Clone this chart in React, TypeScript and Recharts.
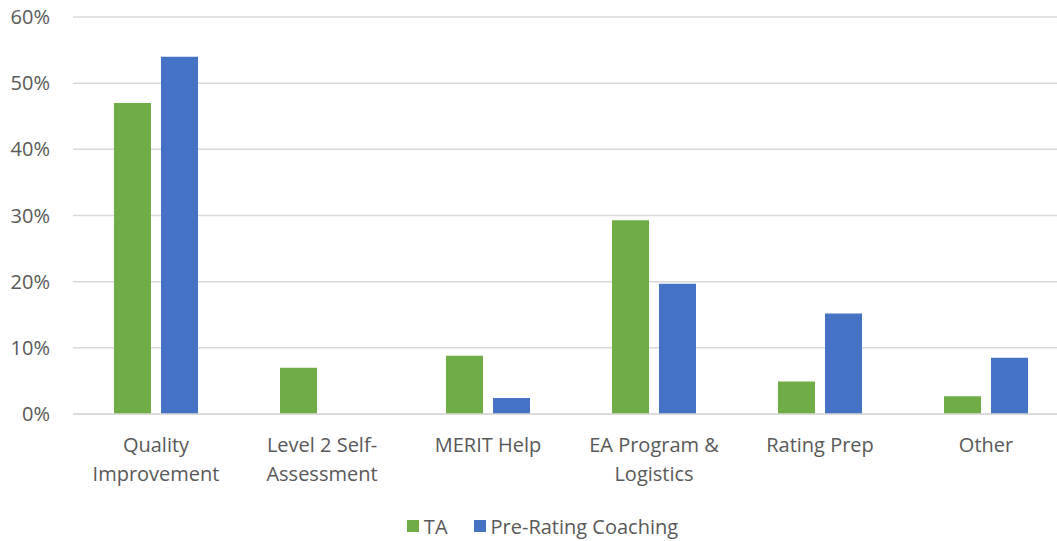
import React from 'react';
import { BarChart, Bar, XAxis, YAxis, CartesianGrid, Legend } from 'recharts';

const categories = ['Quality Improvement', 'Level 2 Self-Assessment', 'MERIT Help', 'EA Program & Logistics', 'Rating Prep', 'Other'];
const tickLines = [
  ['Quality', 'Improvement'],
  ['Level 2 Self-', 'Assessment'],
  ['MERIT Help'],
  ['EA Program &', 'Logistics'],
  ['Rating Prep'],
  ['Other'],
];
const taValues = [0.47, 0.07, 0.088, 0.293, 0.049, 0.027];
const coachingValues = [0.54, 0, 0.024, 0.197, 0.152, 0.085];
const yTicks = [0, 0.1, 0.2, 0.3, 0.4, 0.5, 0.6];
const seriesNames = ['TA', 'Pre-Rating Coaching'];
const seriesColors = ['#70AD47', '#4472C4'];

const data = categories.map((c, i) => ({ name: c, ta: taValues[i], prc: coachingValues[i] }));

const FONT = '"Open Sans", sans-serif';
const TEXT = '#595959';

const XTick = (props: any) => {
  const { x, y, index } = props;
  const lines = tickLines[index] || [props.payload.value];
  return (
    <g transform={`translate(${x},${y})`}>
      <text textAnchor="middle" fill={TEXT} fontFamily={FONT} fontSize={20}>
        {lines.map((l: string, i: number) => (
          <tspan key={i} x={0} y={30 + i * 29}>{l}</tspan>
        ))}
      </text>
    </g>
  );
};

const LegendContent = () => (
  <div style={{ display: 'flex', justifyContent: 'center', alignItems: 'center', height: 30, paddingLeft: 16, fontFamily: FONT, fontSize: 20, color: TEXT }}>
    {seriesNames.map((n, i) => (
      <div key={n} style={{ display: 'flex', alignItems: 'center', marginRight: i === 0 ? 26 : 0 }}>
        <div style={{ width: 12, height: 12, background: seriesColors[i], marginRight: 5 }} />
        <span>{n}</span>
      </div>
    ))}
  </div>
);

export default function App() {
  return (
    <div style={{ position: 'absolute', top: 0, left: 0, width: 1057, height: 541, overflow: 'hidden', background: '#fff' }}>
      <BarChart width={1069} height={541} data={data} margin={{ top: 17, right: 0, bottom: 0, left: 0 }} barSize={37} barGap={10}>
        <CartesianGrid vertical={false} stroke="#d9d9d9" strokeWidth={1.5} />
        <XAxis dataKey="name" height={97} axisLine={{ stroke: '#d9d9d9', strokeWidth: 1.5 }} tickLine={false} tick={<XTick />} interval={0} />
        <YAxis width={73} domain={[0, 0.6]} ticks={yTicks} axisLine={false} tickLine={false} tickSize={0} tickMargin={23}
          tickFormatter={(v: number) => `${Math.round(v * 100)}%`}
          tick={{ fill: TEXT, fontFamily: FONT, fontSize: 20 }} />
        <Legend verticalAlign="bottom" content={<LegendContent />} />
        <Bar dataKey="ta" name={seriesNames[0]} fill={seriesColors[0]} isAnimationActive={false} />
        <Bar dataKey="prc" name={seriesNames[1]} fill={seriesColors[1]} isAnimationActive={false} />
      </BarChart>
    </div>
  );
}
